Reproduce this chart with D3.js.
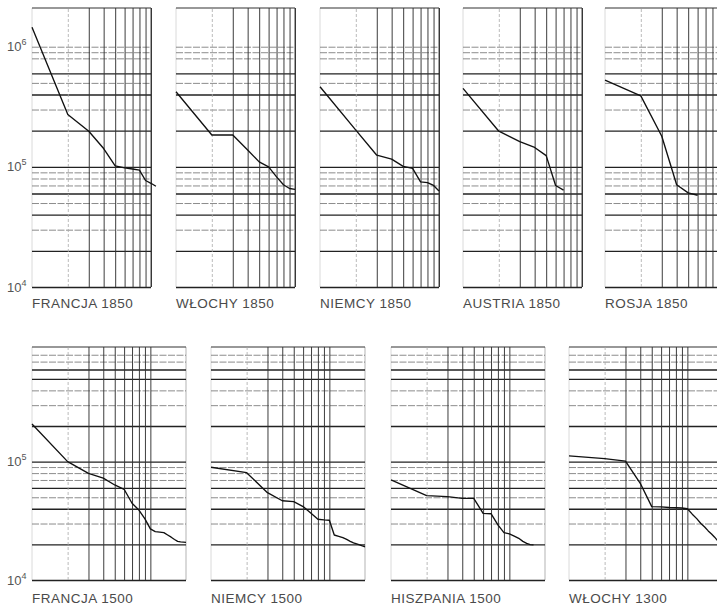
<!DOCTYPE html>
<html>
<head>
<meta charset="utf-8">
<script src="https://cdn.jsdelivr.net/npm/d3@7/dist/d3.min.js"></script>
<style>
  body { margin: 0; background: #fff; }
  text { font-family: "Liberation Sans", Arial, sans-serif; }
</style>
</head>
<body>
<svg id="chart" width="717" height="607"></svg>
<script>
// City populations by rank (rank = index + 1)
const francja1850 = [1.45e6, 2.73e5, 1.98e5, 1.42e5, 1.02e5, 9.8e4, 9.6e4, 9.4e4, 7.7e4, 7.3e4, 6.9e4];
const wlochy1850  = [4.22e5, 1.84e5, 1.84e5, 1.38e5, 1.10e5, 1.0e5, 8.25e4, 7.1e4, 6.6e4, 6.5e4];
const niemcy1850  = [4.64e5, 2.02e5, 1.25e5, 1.16e5, 1.01e5, 9.7e4, 7.5e4, 7.4e4, 7.0e4, 6.3e4];
const austria1850 = [4.5e5, 1.98e5, 1.62e5, 1.45e5, 1.24e5, 7.0e4, 6.4e4];
const rosja1850   = [5.28e5, 3.9e5, 1.80e5, 7.1e4, 6.07e4, 5.8e4];

const francja1500   = [2.08e5, 1.0e5, 7.97e4, 7.25e4, 6.35e4, 5.84e4, 4.45e4, 3.9e4, 3.28e4, 2.7e4,
                       2.56e4, 2.54e4, 2.51e4, 2.4e4, 2.3e4, 2.2e4, 2.12e4, 2.1e4, 2.09e4, 2.08e4];
const niemcy1500    = [8.97e4, 8.07e4, 5.47e4, 4.67e4, 4.59e4, 4.17e4, 3.67e4, 3.26e4, 3.22e4, 3.2e4,
                       2.4e4, 2.34e4, 2.28e4, 2.2e4, 2.12e4, 2.06e4, 2.02e4, 1.98e4, 1.94e4, 1.91e4];
const hiszpania1500 = [7.0e4, 5.16e4, 5.06e4, 4.9e4, 4.9e4, 3.66e4, 3.63e4, 2.92e4, 2.51e4, 2.45e4,
                       2.35e4, 2.25e4, 2.12e4, 2.04e4, 1.99e4, 1.98e4];
const wlochy1300    = [1.12e5, 1.06e5, 1.01e5, 6.56e4, 4.17e4, 4.15e4, 4.1e4, 4.08e4, 4.06e4, 4.0e4,
                       3.6e4, 3.3e4, 3.0e4, 2.8e4, 2.6e4, 2.45e4, 2.3e4, 2.15e4];

const topTitles    = ["FRANCJA 1850", "WŁOCHY 1850", "NIEMCY 1850", "AUSTRIA 1850", "ROSJA 1850"];
const bottomTitles = ["FRANCJA 1500", "NIEMCY 1500", "HISZPANIA 1500", "WŁOCHY 1300"];

// Grid values of the log-log paper
const rankGrid   = [3, 4, 5, 6, 7, 8, 9, 10];
const rankFaint  = [2];
const topBold    = [1e4, 2e4, 4e4, 6e4, 1e5, 2e5, 4e5, 6e5];
const topThin    = [3e4, 5e4, 7e4, 8e4, 9e4, 3e5, 5e5, 8e5, 9e5, 1e6];
const botBold    = [1e4, 2e4, 4e4, 6e4, 1e5, 2e5, 5e5, 6e5];
const botThin    = [3e4, 5e4, 7e4, 8e4, 9e4, 3e5, 4e5, 7e5, 8e5];
const topLabels  = [1e4, 1e5, 1e6];
const botLabels  = [1e4, 1e5];

const svg = d3.select("#chart");

const rows = [
  { series: [francja1850, wlochy1850, niemcy1850, austria1850, rosja1850], titles: topTitles,
    lefts: [32, 176, 320, 463, 605], xMax: 10, xWidth: 119,
    yDomain: [1e4, 2.1e6], yRange: [287, 8], bold: topBold, thin: topThin,
    labels: topLabels, titleY: 308 },
  { series: [francja1500, niemcy1500, hiszpania1500, wlochy1300], titles: bottomTitles,
    lefts: [32, 211, 391, 569], xMax: 20, xWidth: 154,
    yDomain: [1e4, 9.3e5], yRange: [580, 347], bold: botBold, thin: botThin,
    labels: botLabels, titleY: 603 }
];

const line = (x, y) => d3.line().x((d, i) => x(i + 1)).y(d => y(d));

rows.forEach(row => {
  const y = d3.scaleLog().domain(row.yDomain).range(row.yRange);
  const h = row.yRange[0] - row.yRange[1];

  row.series.forEach((data, p) => {
    const L = row.lefts[p];
    const x = d3.scaleLog().domain([1, row.xMax]).range([L, L + row.xWidth]);
    const g = svg.append("g");

    // frame edges
    g.append("line").attr("x1", L).attr("x2", L).attr("y1", row.yRange[0]).attr("y2", row.yRange[1])
      .attr("stroke", "#d0d0d0").attr("stroke-width", 0.8);
    g.append("line").attr("x1", L + row.xWidth).attr("x2", L + row.xWidth)
      .attr("y1", row.yRange[0]).attr("y2", row.yRange[1])
      .attr("stroke", row.xMax === 10 ? "#333" : "#aaa").attr("stroke-width", 0.9);
    g.append("line").attr("x1", L).attr("x2", L + row.xWidth).attr("y1", row.yRange[1]).attr("y2", row.yRange[1])
      .attr("stroke", "#333").attr("stroke-width", 1.2);

    // horizontal grid (thin then bold)
    const hThin = g.append("g").attr("transform", `translate(${L},0)`)
      .call(d3.axisLeft(y).tickValues(row.thin).tickSize(-row.xWidth).tickFormat(""));
    hThin.select(".domain").remove();
    hThin.selectAll("line").attr("stroke", "#6e6e6e").attr("stroke-width", 0.8)
      .attr("stroke-dasharray", "7,1.5");

    const hBold = g.append("g").attr("transform", `translate(${L},0)`)
      .call(d3.axisLeft(y).tickValues(row.bold).tickSize(-row.xWidth).tickFormat(""));
    hBold.select(".domain").remove();
    hBold.selectAll("line").attr("stroke", "#222").attr("stroke-width", 1.35);

    // vertical grid
    const vFaint = g.append("g").attr("transform", `translate(0,${row.yRange[0]})`)
      .call(d3.axisBottom(x).tickValues(rankFaint).tickSize(-h).tickFormat(""));
    vFaint.select(".domain").remove();
    vFaint.selectAll("line").attr("stroke", "#aaa").attr("stroke-width", 0.8)
      .attr("stroke-dasharray", "3,2");

    const vGrid = g.append("g").attr("transform", `translate(0,${row.yRange[0]})`)
      .call(d3.axisBottom(x).tickValues(rankGrid).tickSize(-h).tickFormat(""));
    vGrid.select(".domain").remove();
    vGrid.selectAll("line").attr("stroke", "#333").attr("stroke-width", 0.95);

    // rank-size curve
    g.append("path").datum(data)
      .attr("d", line(x, y))
      .attr("fill", "none").attr("stroke", "#111").attr("stroke-width", 1.35)
      .attr("stroke-linejoin", "round");

    // panel title
    g.append("text").attr("x", L).attr("y", row.titleY)
      .attr("font-size", 13.5).attr("fill", "#4a4a4a").attr("letter-spacing", 0.5)
      .text(row.titles[p]);
  });

  // power-of-ten labels on the left
  row.labels.forEach(v => {
    const t = svg.append("text").attr("x", 7).attr("y", y(v) + 4.5)
      .attr("font-size", 13).attr("fill", "#555");
    t.append("tspan").text("10");
    t.append("tspan").attr("dy", -6).attr("font-size", 9).text(Math.round(Math.log10(v)));
  });
});
</script>
</body>
</html>
